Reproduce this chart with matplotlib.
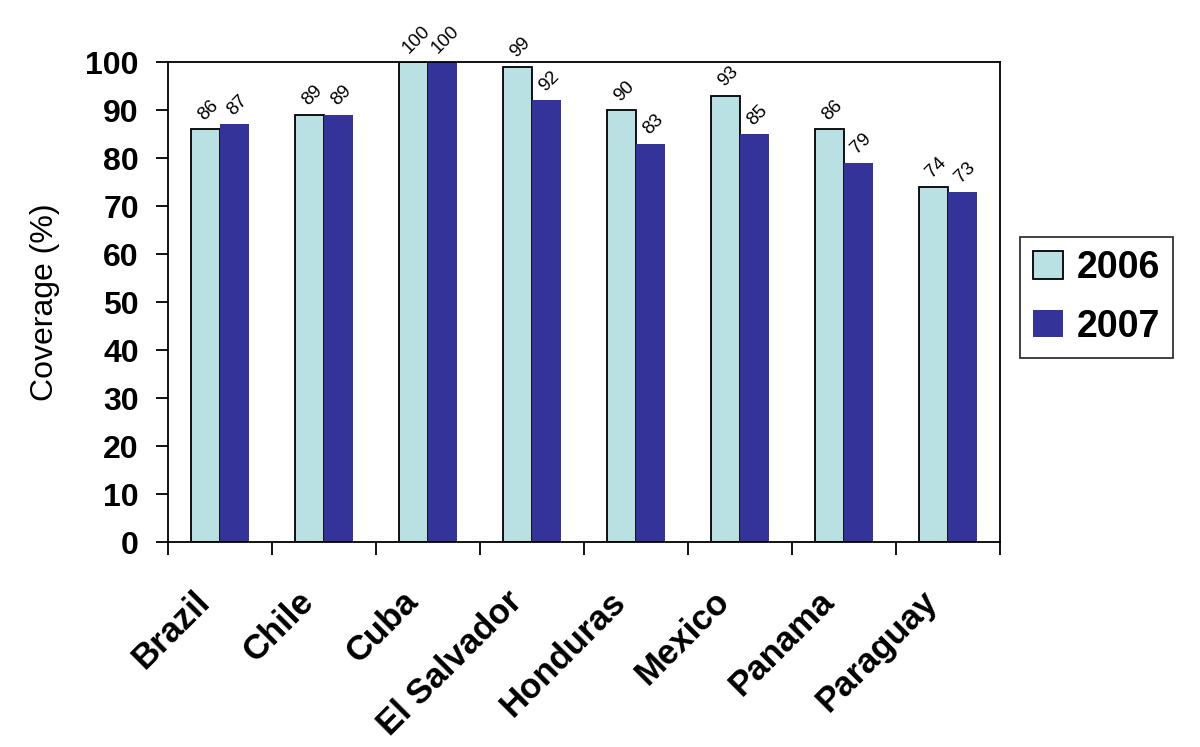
import matplotlib.pyplot as plt
import matplotlib.transforms as mtransforms
import numpy as np

countries = ['Brazil', 'Chile', 'Cuba', 'El Salvador', 'Honduras', 'Mexico', 'Panama', 'Paraguay']
cov_2006 = [86, 89, 100, 99, 90, 93, 86, 74]
cov_2007 = [87, 89, 100, 92, 83, 85, 79, 73]

plt.rcParams['font.family'] = ['Liberation Sans', 'DejaVu Sans']

fig = plt.figure(figsize=(12, 7.47), dpi=100)
ax = fig.add_axes([0.14, 0.2744, 0.6933, 0.6426])

x = np.arange(len(countries))
w = 0.28
b1 = ax.bar(x - w/2, cov_2006, w, color='#B9E0E3', edgecolor='black', linewidth=1.3, label='2006')
b2 = ax.bar(x + w/2, cov_2007, w, color='#333399', edgecolor='#333399', linewidth=0, label='2007')

# value labels, tilted like the original
for bars, vals in [(b1, cov_2006), (b2, cov_2007)]:
    for r, v in zip(bars, vals):
        ax.annotate(str(v), (r.get_x() + r.get_width()/2, v), xytext=(2, 4),
                    textcoords='offset points', ha='center', va='bottom',
                    rotation=45, fontsize=13.5, annotation_clip=False)

ax.set_xlim(-0.5, len(countries) - 0.5)
ax.set_ylim(0, 100)
ax.set_yticks(range(0, 101, 10))
ax.set_yticklabels([str(v) for v in range(0, 101, 10)], fontsize=23, fontweight='bold')
ax.tick_params(axis='y', length=9, width=1.3, pad=12)

# ticks between categories, labels at centers
ax.set_xticks(np.arange(len(countries) + 1) - 0.5)
ax.set_xticklabels([])
ax.set_xticks(x, minor=True)
ax.set_xticklabels(countries, minor=True, rotation=45, ha='right', rotation_mode='anchor',
                   fontsize=25, fontweight='bold')
ax.tick_params(axis='x', which='major', length=9, width=1.3)
ax.tick_params(axis='x', which='minor', length=0, pad=22)
shift = mtransforms.ScaledTranslation(-0.27, -0.12, fig.dpi_scale_trans)
for lbl in ax.get_xticklabels(minor=True):
    lbl.set_transform(lbl.get_transform() + shift)

ax.set_ylabel('Coverage (%)', fontsize=23)
ax.yaxis.set_label_coords(-0.13, 0.5)

for s in ax.spines.values():
    s.set_linewidth(1.3)

leg = fig.legend(loc='upper left', bbox_to_anchor=(0.85, 0.6827), borderaxespad=0,
                 prop={'weight': 'bold', 'size': 27}, frameon=True, fancybox=False,
                 edgecolor='black', handlelength=0.8, handleheight=0.75, handletextpad=0.35,
                 labelspacing=0.6, borderpad=0.35)
leg.get_frame().set_linewidth(1.3)

fig.savefig('out.png', dpi=100)
